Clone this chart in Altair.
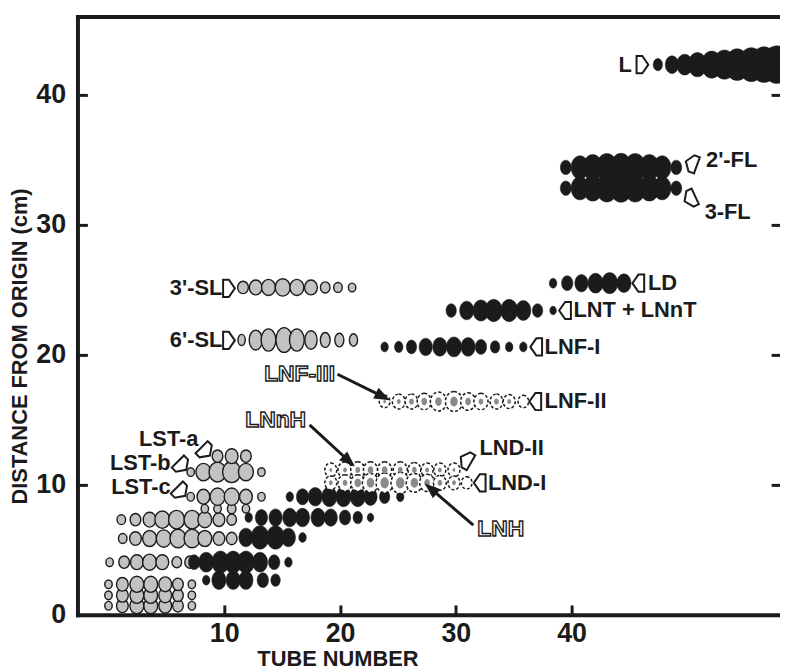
import math
import altair as alt
import pandas as pd

# ---------------- data: tube number, distance from origin (cm), relative spot amount ----------------
# grey (orcinol-positive) spots
LOW_DISTS = [0.7, 1.5, 2.35]
LOW_TUBES = [0.0, 1.2, 2.45, 3.65, 4.9, 6.0, 7.2]
LOW_AMT = [1.75, 2.75, 3.25, 3.25, 3.0, 2.5, 1.75]

G4_DIST = 4.05
G4_TUBES = [0.1, 1.35, 2.45, 3.55, 4.65, 5.9, 7.05]
G4_AMT = [1.75, 2.5, 3.0, 3.25, 3.0, 2.25, 2.5]

G6_DIST = 5.87
G6_TUBES = [1.23, 2.33, 3.55, 4.77, 6.0, 7.22, 8.32, 9.54, 10.64]
G6_AMT = [2.0, 2.75, 3.25, 3.5, 3.75, 3.75, 3.25, 2.75, 2.5]

G7_DIST = 7.32
G7_TUBES = [1.11, 2.33, 3.55, 4.65, 5.88, 7.22, 8.32, 9.54, 10.64]
G7_AMT = [2.0, 2.5, 3.0, 3.5, 3.75, 3.75, 3.25, 2.75, 2.25]

G8_DIST = 8.16
G8_TUBES = [8.32, 9.42, 10.64, 11.87]
G8_AMT = [1.75, 1.75, 2.0, 1.75]

LST_TUBES = [7.1, 8.2, 9.42, 10.64, 11.87, 13.21]
LSTC_DIST = 9.08
LSTC_AMT = [1.75, 3.0, 3.5, 3.5, 3.0, 1.75]
LSTB_DIST = 10.98
LSTB_AMT = [1.75, 3.5, 4.0, 4.25, 3.5, 1.75]
LSTA_DIST = 12.2
LSTA_TUBES = [9.42, 10.64, 11.87]
LSTA_AMT = [2.5, 3.0, 2.5]

SL3_DIST = 25.17
SL3_TUBES = [11.62, 12.72, 13.82, 15.05, 16.27, 17.49, 18.72, 19.82, 21.04]
SL3_AMT = [2.5, 3.0, 3.25, 3.5, 3.25, 3.0, 2.25, 2.0, 1.75]

SL6_DIST = 21.13
SL6_TUBES = [11.5, 12.72, 13.82, 15.17, 16.27, 17.49, 18.72, 19.94, 21.16]
SL6_AMT = [2.25, 4.0, 4.5, 5.0, 4.5, 3.75, 3.0, 2.75, 2.5]

# black (resorcinol-positive) spots
B3_DIST = 2.67
B3_TUBES = [8.44, 9.54, 10.77, 11.87, 13.33, 14.43]
B3_AMT = [2.0, 3.75, 3.75, 3.75, 3.0, 2.5]

B4_DIST = 4.05
B4_TUBES = [7.4, 8.44, 9.67, 10.77, 11.87, 13.09, 14.31, 15.54]
B4_AMT = [3.0, 4.0, 4.5, 4.5, 4.5, 4.0, 3.0, 2.0]

B6_DIST = 5.95
B6_TUBES = [11.87, 13.09, 14.43, 15.54, 16.76]
B6_AMT = [3.75, 4.75, 4.75, 3.75, 2.0]

B7_DIST = 7.48
B7_TUBES = [12.11, 13.21, 14.43, 15.66, 16.76, 18.1, 19.2, 20.43, 21.53, 22.63]
B7_AMT = [2.0, 3.25, 3.5, 3.75, 3.75, 3.75, 3.5, 3.0, 2.5, 1.75]

B9_DIST = 9.08
B9_TUBES = [15.66, 16.76, 17.86, 19.08, 20.3, 21.53, 22.63, 23.85, 25.2]
B9_AMT = [2.0, 3.25, 3.75, 4.0, 4.0, 4.0, 3.5, 2.75, 2.0]

LNF1_DIST = 20.6
LNF1_TUBES = [23.85, 25.07, 26.17, 27.4, 28.62, 29.84, 31.06, 32.17, 33.39, 34.61, 35.83]
LNF1_AMT = [2.0, 2.25, 2.75, 3.5, 3.75, 4.0, 3.75, 3.0, 2.5, 2.0, 2.0]

LNT_DIST = 23.4
LNT_TUBES = [29.6, 30.94, 32.17, 33.27, 34.61, 35.83, 37.06, 38.4]
LNT_AMT = [2.75, 3.75, 4.25, 4.5, 4.5, 4.0, 2.75, 1.75]

LD_DIST = 25.5
LD_TUBES = [38.4, 39.62, 40.85, 42.07, 43.29, 44.52]
LD_AMT = [2.0, 3.0, 3.5, 4.0, 4.25, 3.75]

FL_DISTS = [34.4, 32.8]
FL_TUBES = [39.5, 40.72, 41.83, 43.05, 44.27, 45.49, 46.72, 47.82, 49.04]
FL_AMT = [2.9, 4.7, 5.2, 5.6, 5.7, 5.6, 5.2, 4.7, 2.9]

L_DIST = 42.3
L_TUBES = [47.45, 48.67, 49.77, 50.87, 52.1, 53.2, 54.3, 55.52, 56.62, 57.72]
L_AMT = [2.45, 3.55, 4.2, 4.9, 5.45, 5.9, 6.4, 6.85, 7.2, 7.6]

# dashed (faint) spots: outer zone and inner stained core
LND2_DIST = 11.14
LND2_TUBES = [19.2, 20.43, 21.53, 22.63, 23.85, 25.2, 26.42, 27.52, 28.62, 29.84]
LND2_OUT = [2.8, 3.3, 3.3, 3.3, 3.3, 3.3, 3.0, 2.8, 2.8, 2.8]
LND2_IN = [0.75, 1.0, 1.25, 1.5, 1.5, 1.25, 1.25, 1.0, 1.0, 0.75]

LND1_DIST = 10.15
LND1_TUBES = [19.2, 20.43, 21.53, 22.63, 23.85, 25.2, 26.42, 27.52, 28.62, 29.84, 30.94]
LND1_OUT = [2.8, 3.3, 3.3, 3.8, 4.0, 4.3, 3.8, 3.5, 3.0, 2.8, 2.5]
LND1_IN = [1.0, 1.25, 1.75, 2.0, 2.25, 2.25, 2.0, 1.5, 1.25, 1.0, 0.0]

LNF2_DIST = 16.4
LNF2_TUBES = [23.85, 25.07, 26.17, 27.27, 28.5, 29.84, 31.06, 32.17, 33.51, 34.61, 35.83]
LNF2_OUT = [2.5, 3.0, 3.0, 3.3, 3.8, 4.0, 3.5, 3.3, 3.0, 2.8, 2.5]
LNF2_IN = [0.75, 1.0, 1.25, 1.5, 1.75, 2.0, 1.5, 1.25, 1.25, 1.0, 0.0]

# labels placed to the left of a pointer (text ends at tube value)
RIGHT_LABELS = ["3'-SL", "6'-SL", "L", "LST-a", "LST-b", "LST-c"]
RIGHT_TUBE = [9.83, 9.83, 45.21, 7.77, 5.37, 5.37]
RIGHT_DIST = [25.1, 21.1, 42.3, 13.5, 11.67, 9.84]

# labels that start at the tube value
LEFT_LABELS = ["LD", "LNT + LNnT", "LNF-I", "LNF-II", "LND-I", "LND-II", "2'-FL", "3-FL"]
LEFT_TUBE = [46.59, 40.16, 37.67, 37.67, 32.78, 32.04, 51.61, 51.49]
LEFT_DIST = [25.5, 23.4, 20.6, 16.4, 10.15, 12.8, 35.0, 31.0]

# hollow pointers (position and pointing direction, degrees clockwise from right)
PTR_TUBE = [10.36, 10.36, 46.07, 45.81, 39.48, 36.99, 36.91, 32.11, 30.91, 50.39, 50.26, 8.37, 6.32, 6.23]
PTR_DIST = [25.1, 21.1, 42.3, 25.5, 23.4, 20.6, 16.4, 10.15, 11.9, 34.7, 32.0, 12.6, 11.5, 9.5]
PTR_DIR = [0, 0, 0, 180, 180, 180, 180, 180, 210, 200, 155, 45, 45, 45]

# outlined labels with solid arrows
OUT_LABELS = ["LNF-III", "LNnH", "LNH"]
OUT_TUBE = [16.51, 14.44, 33.88]
OUT_DIST = [18.5, 15.0, 6.6]
ARROW_FROM_TUBE = [19.78, 17.37, 31.51]
ARROW_FROM_DIST = [18.5, 14.6, 6.9]
ARROW_TO_TUBE = [24.32, 21.28, 27.31]
ARROW_TO_DIST = [16.5, 11.4, 10.1]

X_TICKS = [10, 20, 30, 40]
Y_TICKS = [0, 10, 20, 30, 40]

# ---------------- layout / style ----------------
W, H = 708, 603
X_DOM = [-2.68, 58.0]
Y_DOM = [0, 46]
PX_X = W / (X_DOM[1] - X_DOM[0])
PX_Y = H / (Y_DOM[1] - Y_DOM[0])
FONT = "Liberation Sans"
INK = "#1b1b1b"


def ellipse(rx):
    return f"M0,-1A{rx},1,0,1,1,0,1A{rx},1,0,1,1,0,-1Z"


ROUND = ellipse(0.86)
OVAL = ellipse(0.76)
TALL = ellipse(0.66)
POINTER = "M-0.62,-1L0.05,-1L0.75,0L0.05,1L-0.62,1Z"
HEAD = "M0,0L-2,-0.75L-2,0.75Z"


def rows(dist, tubes, amts, field="amount"):
    return [{"tube": t, "dist": dist, field: a} for t, a in zip(tubes, amts)]


grey = []
for d in LOW_DISTS:
    grey += rows(d, LOW_TUBES, LOW_AMT)
grey += rows(G4_DIST, G4_TUBES, G4_AMT)
grey += rows(G6_DIST, G6_TUBES, G6_AMT)
grey += rows(G7_DIST, G7_TUBES, G7_AMT)
grey += rows(G8_DIST, G8_TUBES, G8_AMT)
grey += rows(LSTC_DIST, LST_TUBES, LSTC_AMT)
grey += rows(LSTB_DIST, LST_TUBES, LSTB_AMT)
grey += rows(LSTA_DIST, LSTA_TUBES, LSTA_AMT)
grey += rows(SL3_DIST, SL3_TUBES, SL3_AMT)
grey_df = pd.DataFrame(grey)
grey_tall_df = pd.DataFrame(rows(SL6_DIST, SL6_TUBES, SL6_AMT))

black = []
black += rows(B3_DIST, B3_TUBES, B3_AMT)
black += rows(B4_DIST, B4_TUBES, B4_AMT)
black += rows(B6_DIST, B6_TUBES, B6_AMT)
black += rows(B7_DIST, B7_TUBES, B7_AMT)
black += rows(B9_DIST, B9_TUBES, B9_AMT)
black += rows(LNF1_DIST, LNF1_TUBES, LNF1_AMT)
black += rows(LNT_DIST, LNT_TUBES, LNT_AMT)
black += rows(LD_DIST, LD_TUBES, LD_AMT)
for d in FL_DISTS:
    black += rows(d, FL_TUBES, FL_AMT)
black += rows(L_DIST, L_TUBES, L_AMT)
black_df = pd.DataFrame(black)

dashed = []
for dist, tubes, outer, inner in [
    (LND2_DIST, LND2_TUBES, LND2_OUT, LND2_IN),
    (LND1_DIST, LND1_TUBES, LND1_OUT, LND1_IN),
    (LNF2_DIST, LNF2_TUBES, LNF2_OUT, LNF2_IN),
]:
    for t, o, i in zip(tubes, outer, inner):
        dashed.append({"tube": t, "dist": dist, "outer": o, "inner": i})
dashed_df = pd.DataFrame(dashed)
inner_df = dashed_df[dashed_df["inner"] > 0]

right_df = pd.DataFrame({"tube": RIGHT_TUBE, "dist": RIGHT_DIST, "label": RIGHT_LABELS})
left_df = pd.DataFrame({"tube": LEFT_TUBE, "dist": LEFT_DIST, "label": LEFT_LABELS})
ptr_df = pd.DataFrame({"tube": PTR_TUBE, "dist": PTR_DIST, "dir": PTR_DIR})
out_df = pd.DataFrame({"tube": OUT_TUBE, "dist": OUT_DIST, "label": OUT_LABELS})

arrows = []
for t0, d0, t1, d1 in zip(ARROW_FROM_TUBE, ARROW_FROM_DIST, ARROW_TO_TUBE, ARROW_TO_DIST):
    dx = (t1 - t0) * PX_X
    dy = -(d1 - d0) * PX_Y
    length = math.hypot(dx, dy)
    k = (length - 12) / length
    arrows.append({
        "t0": t0, "d0": d0,
        "t1": t0 + (t1 - t0) * k, "d1": d0 + (d1 - d0) * k,
        "tube": t1, "dist": d1,
        "dir": math.degrees(math.atan2(dy, dx)) % 360,
    })
arrow_df = pd.DataFrame(arrows)

xs = alt.Scale(domain=X_DOM, nice=False, zero=False)
ys = alt.Scale(domain=Y_DOM, nice=False, zero=False)
ss = alt.Scale(type="pow", exponent=2, domain=[0, 10], range=[0, 2500])

X = alt.X("tube:Q", scale=xs, axis=None)
Y = alt.Y("dist:Q", scale=ys, axis=None)


def spot_layer(df, field, shape, **style):
    return alt.Chart(df).mark_point(shape=shape, opacity=1, **style).encode(
        x=X, y=Y, size=alt.Size(f"{field}:Q", scale=ss, legend=None)
    )


grey_style = dict(filled=True, fill="#c2c2c2", stroke=INK, strokeWidth=1.4)
grey_layer = spot_layer(grey_df, "amount", ROUND, **grey_style)
grey_tall_layer = spot_layer(grey_tall_df, "amount", TALL, **grey_style)
black_layer = spot_layer(black_df, "amount", OVAL, filled=True, fill=INK, stroke=INK, strokeWidth=0.5)
outer_layer = spot_layer(dashed_df, "outer", ROUND, filled=False, fill="white", stroke=INK,
                         strokeWidth=1.5, strokeDash=[3, 2])
inner_layer = spot_layer(inner_df, "inner", OVAL, filled=True, fill="#8a8a8a", strokeWidth=0)

ptr_layer = alt.Chart(ptr_df).mark_point(
    shape=POINTER, filled=True, fill="white", stroke=INK, strokeWidth=2, size=300, opacity=1
).encode(x=X, y=Y, angle=alt.Angle("dir:Q", scale=None))

rule_layer = alt.Chart(arrow_df).mark_rule(strokeWidth=3, color=INK).encode(
    x=alt.X("t0:Q", scale=xs, axis=None), y=alt.Y("d0:Q", scale=ys, axis=None),
    x2="t1:Q", y2="d1:Q",
)
head_layer = alt.Chart(arrow_df).mark_point(
    shape=HEAD, filled=True, fill=INK, strokeWidth=0, size=256, opacity=1
).encode(x=X, y=Y, angle=alt.Angle("dir:Q", scale=None))

txt = dict(font=FONT, fontWeight="bold", fontSize=22, baseline="middle")
right_layer = alt.Chart(right_df).mark_text(align="right", color=INK, **txt).encode(x=X, y=Y, text="label:N")
left_layer = alt.Chart(left_df).mark_text(align="left", color=INK, **txt).encode(x=X, y=Y, text="label:N")
out_layer = alt.Chart(out_df).mark_text(
    align="center", font=FONT, fontWeight="bold", fontSize=23, baseline="middle",
    fill="white", stroke=INK, strokeWidth=1.4,
).encode(x=X, y=Y, text="label:N")

# ---------------- axes (frame with inward ticks) ----------------
anchor = pd.DataFrame({"tube": [X_DOM[0]], "dist": [Y_DOM[0]]})
common = dict(grid=False, labelFont=FONT, labelFontWeight="bold", labelColor=INK,
              titleFont=FONT, titleFontWeight="bold", titleColor=INK)
tick_style = dict(grid=False, domain=False, labels=False, title=None, tickColor=INK, tickWidth=3)

x_main = alt.Axis(orient="bottom", values=X_TICKS, title="TUBE NUMBER", ticks=False, tickSize=0,
                  domainWidth=4, domainColor=INK, domainCap="square",
                  labelFontSize=27, labelPadding=6, titleFontSize=22,
                  titleX=262, titleY=51, titleBaseline="alphabetic", titleAlign="center", **common)
y_main = alt.Axis(orient="left", values=Y_TICKS, title="DISTANCE FROM ORIGIN (cm)", ticks=False, tickSize=0,
                  domainWidth=4, domainColor=INK, domainCap="square",
                  labelFontSize=27, labelPadding=12, titleFontSize=22,
                  titleX=-51, titleY=332, titleAngle=270, titleBaseline="alphabetic", titleAlign="center",
                  **common)
x_bt = alt.Axis(orient="bottom", values=X_TICKS, offset=-10, tickSize=10, **tick_style)
y_lt = alt.Axis(orient="left", values=Y_TICKS[1:], offset=-10, tickSize=10, **tick_style)
y_rt = alt.Axis(orient="right", values=Y_TICKS[1:], offset=-9, tickSize=9, **tick_style)
x_top = alt.Axis(orient="top", grid=False, domain=True, domainWidth=4, domainColor=INK, domainCap="square",
                 ticks=False, labels=False, title=None)


def axis_layer(xaxis, yaxis):
    return alt.Chart(anchor).mark_point(opacity=0).encode(
        x=alt.X("tube:Q", scale=xs, axis=xaxis),
        y=alt.Y("dist:Q", scale=ys, axis=yaxis),
    )


chart = alt.layer(
    axis_layer(x_main, y_main),
    axis_layer(x_bt, y_lt),
    axis_layer(x_top, y_rt),
    grey_layer,
    grey_tall_layer,
    black_layer,
    outer_layer,
    inner_layer,
    ptr_layer,
    rule_layer,
    head_layer,
    right_layer,
    left_layer,
    out_layer,
).resolve_axis(x="independent", y="independent").properties(
    width=W, height=H,
    autosize=alt.AutoSizeParams(type="none"),
    padding={"left": 70, "top": 6, "right": 0, "bottom": 54},
    background="white",
).configure_view(stroke=None)

chart.save("out.html", embed_options={"renderer": "svg", "actions": False})
